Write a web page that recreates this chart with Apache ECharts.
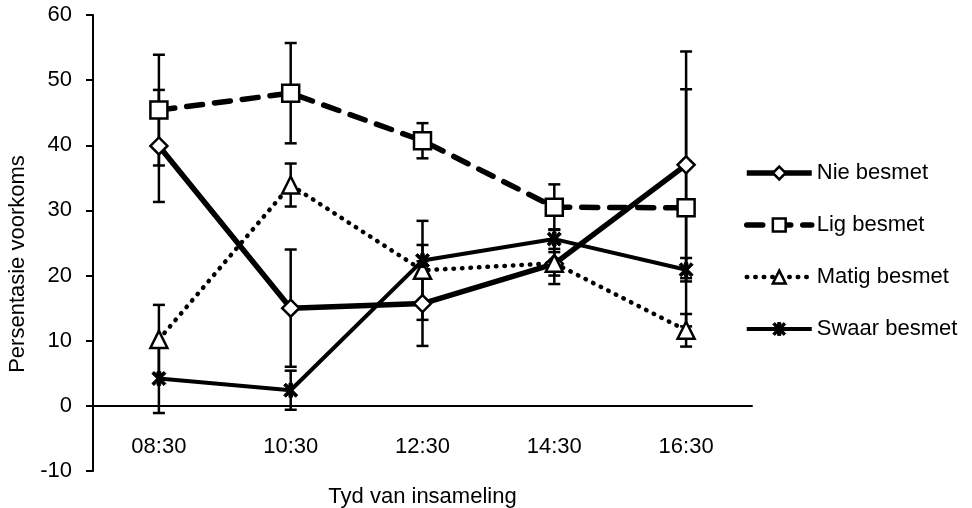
<!DOCTYPE html>
<html>
<head>
<meta charset="utf-8">
<script src="https://cdn.jsdelivr.net/npm/echarts@6/dist/echarts.min.js"></script>
<style>
html,body{margin:0;padding:0;background:#fff;}
#chart{width:972px;height:508px;}
</style>
</head>
<body>
<div id="chart"></div>
<script>
const categories = ['08:30', '10:30', '12:30', '14:30', '16:30'];
const seriesNames = ['Nie besmet', 'Lig besmet', 'Matig besmet', 'Swaar besmet'];
const nieValues = [39.9, 15.0, 15.7, 21.8, 37.0];
const nieErrors = [8.6, 9.0, 6.5, 1.8, 17.4];
const ligValues = [45.4, 48.0, 40.7, 30.5, 30.4];
const ligErrors = [8.5, 7.7, 2.7, 3.5, 18.2];
const matigValues = [10.2, 33.9, 20.8, 21.9, 11.6];
const matigErrors = [5.3, 3.3, 7.6, 3.2, 2.5];
const swaarValues = [4.2, 2.4, 22.3, 25.6, 20.9];
const swaarErrors = [5.3, 3.0, 2.4, 1.5, 1.8];
const yTicks = [-10, 0, 10, 20, 30, 40, 50, 60];

const FONT = 'Liberation Sans, Arial, sans-serif';
const starPath = 'path://M3.75 0L6.25 0L6.25 10L3.75 10Z M1.5 0L10 8.5L8.5 10L0 1.5Z M8.5 0L10 1.5L1.5 10L0 8.5Z';

const styles = {
  'Nie besmet': {symbol: 'diamond', size: 17, line: {color: '#000', width: 5.5, type: 'solid'}, item: {color: '#fff', borderColor: '#000', borderWidth: 2.5}},
  'Lig besmet': {symbol: 'rect', size: 17, line: {color: '#000', width: 5.5, type: [16, 12], cap: 'round'}, item: {color: '#fff', borderColor: '#000', borderWidth: 2.5}},
  'Matig besmet': {symbol: 'triangle', size: 17, line: {color: '#000', width: 4.5, type: [0.5, 8], cap: 'round'}, item: {color: '#fff', borderColor: '#000', borderWidth: 2.5}},
  'Swaar besmet': {symbol: starPath, size: 14, line: {color: '#000', width: 4, type: 'solid'}, item: {color: '#000', borderColor: '#000', borderWidth: 1}}
};

const GRID = {left: 93, right: 220, top: 15, bottom: 37};
const plotH = 508 - GRID.top - GRID.bottom;
const yMin = yTicks[0], yMax = yTicks[yTicks.length - 1];
// move the category axis up to the zero line (labels travel with it)
const zeroOffset = -plotH * (0 - yMin) / (yMax - yMin);

function errData(vals, errs) {
  return vals.map((v, i) => [i, v, errs[i]]);
}
function renderErr(params, api) {
  const i = api.value(0), v = api.value(1), e = api.value(2);
  const top = api.coord([i, v + e]);
  const bot = api.coord([i, v - e]);
  const hw = 6;
  const st = {stroke: '#000', lineWidth: 2.5};
  return {
    type: 'group',
    children: [
      {type: 'line', shape: {x1: top[0], y1: top[1], x2: bot[0], y2: bot[1]}, style: st},
      {type: 'line', shape: {x1: top[0] - hw, y1: top[1], x2: top[0] + hw, y2: top[1]}, style: st},
      {type: 'line', shape: {x1: bot[0] - hw, y1: bot[1], x2: bot[0] + hw, y2: bot[1]}, style: st}
    ]
  };
}
function errSeries(name, vals, errs) {
  return {
    name: name + ' fout',
    type: 'custom',
    renderItem: renderErr,
    data: errData(vals, errs),
    encode: {x: 0, y: 1},
    z: 1,
    silent: true
  };
}
function lineSeries(name, vals) {
  const s = styles[name];
  return {
    name: name, type: 'line', data: vals, z: 3,
    symbol: s.symbol, symbolSize: s.size,
    lineStyle: s.line, itemStyle: s.item
  };
}

const chart = echarts.init(document.getElementById('chart'));
chart.setOption({
  animation: false,
  backgroundColor: '#fff',
  textStyle: {fontFamily: FONT},
  grid: Object.assign({outerBoundsMode: 'none', containLabel: false}, GRID),
  legend: {
    orient: 'vertical',
    left: 744,
    top: 162,
    padding: 0,
    itemWidth: 65,
    itemHeight: 16,
    itemGap: 30,
    data: seriesNames.map(n => ({name: n, lineStyle: styles[n].line, itemStyle: styles[n].item})),
    textStyle: {fontSize: 22, color: '#000', fontFamily: FONT}
  },
  xAxis: {
    type: 'category',
    data: categories,
    boundaryGap: true,
    offset: zeroOffset,
    name: 'Tyd van insameling',
    nameLocation: 'middle',
    nameGap: 80,
    nameTextStyle: {fontSize: 22, color: '#000', fontFamily: FONT},
    axisLine: {onZero: false, lineStyle: {color: '#000', width: 2}},
    axisTick: {show: false},
    axisLabel: {fontSize: 22, color: '#000', margin: 30, fontFamily: FONT},
    splitLine: {show: false}
  },
  yAxis: {
    type: 'value',
    min: yMin,
    max: yMax,
    interval: 10,
    name: 'Persentasie voorkoms',
    nameLocation: 'middle',
    nameGap: 64,
    nameRotate: 90,
    nameTextStyle: {fontSize: 22, color: '#000', fontFamily: FONT, padding: [0, 42, 0, 0]},
    axisLine: {show: true, lineStyle: {color: '#000', width: 2}},
    axisTick: {show: true, inside: false, length: 7, lineStyle: {color: '#000', width: 2}},
    axisLabel: {fontSize: 22, color: '#000', margin: 21, fontFamily: FONT},
    splitLine: {show: false}
  },
  series: [
    errSeries('Nie besmet', nieValues, nieErrors),
    errSeries('Lig besmet', ligValues, ligErrors),
    errSeries('Matig besmet', matigValues, matigErrors),
    errSeries('Swaar besmet', swaarValues, swaarErrors),
    lineSeries('Nie besmet', nieValues),
    lineSeries('Lig besmet', ligValues),
    lineSeries('Matig besmet', matigValues),
    lineSeries('Swaar besmet', swaarValues)
  ]
});
</script>
</body>
</html>
